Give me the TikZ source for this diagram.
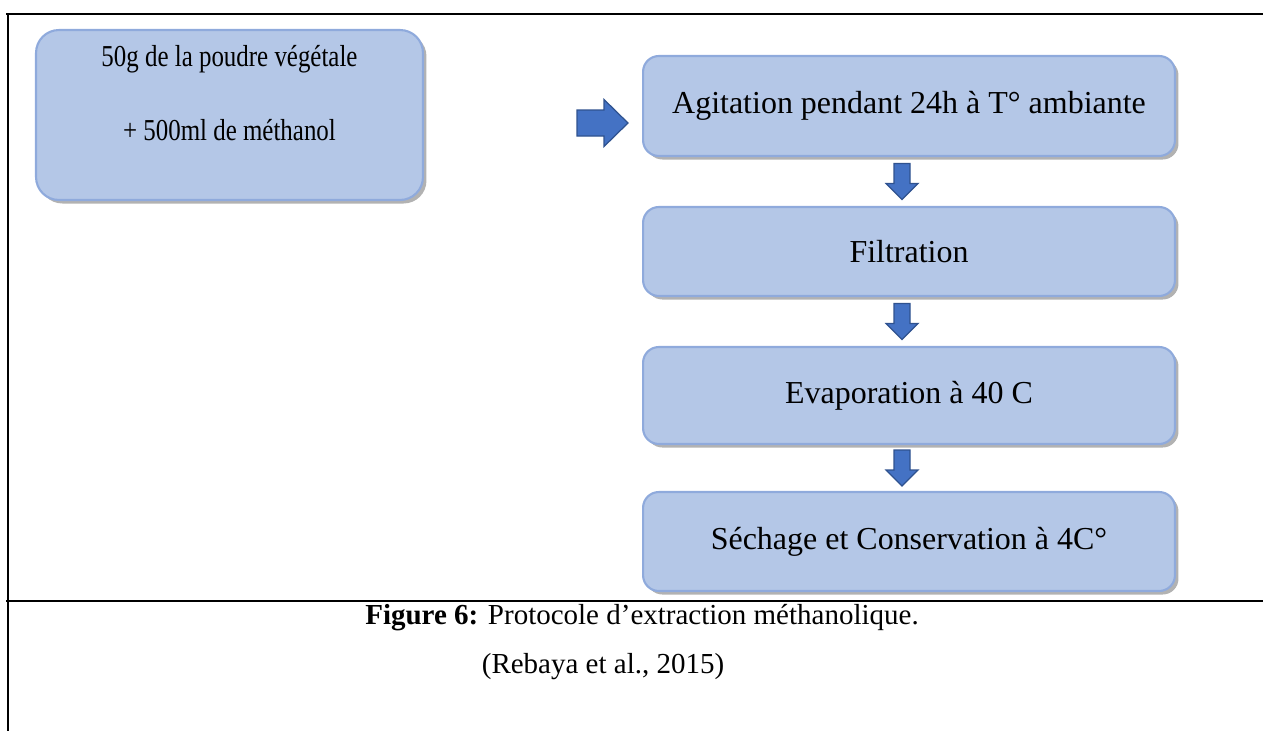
\documentclass[tikz,border=0pt]{standalone}
\usepackage{fontspec}
\setmainfont{Liberation Serif}
\newfontfamily\narrowserif[FakeStretch=0.82]{Liberation Serif}
\usepackage{tikz}
\usetikzlibrary{shadows, calc}
\definecolor{boxfill}{RGB}{180,199,231}
\definecolor{boxedge}{RGB}{143,170,220}
\definecolor{arrfill}{RGB}{68,114,196}
\definecolor{arredge}{RGB}{47,82,143}
\tikzset{
  stepbox/.style={rectangle, draw=boxedge, fill=boxfill, line width=1.2pt,
    rounded corners=9pt, align=center, inner sep=0pt,
    minimum width=10.64cm, font=\fontsize{18.2}{22}\selectfont,
    drop shadow={shadow xshift=2pt, shadow yshift=-2pt, opacity=0.3, fill=black}},
  bigbox/.style={stepbox, rounded corners=13pt, minimum width=7.74cm, minimum height=3.4cm},
  bigtext/.style={align=center, inner sep=0pt, font=\narrowserif\fontsize{17.3}{22}\selectfont},
  blockarrow/.style={draw=arredge, fill=arrfill, line width=0.7pt, line join=miter},
  frame/.style={line width=1.6pt, color=black},
  captext/.style={font=\fontsize{16.5}{20}\selectfont},
  downarr/.pic={
    \draw[blockarrow] (-8,-18) -- (8,-18) -- (8,2) -- (16,2) -- (0,18)
      -- (-16,2) -- (-8,2) -- cycle;
  },
  rightarr/.pic={
    \draw[blockarrow] (-25.5,-13) -- (1.5,-13) -- (1.5,-23.5) -- (25.5,0)
      -- (1.5,23.5) -- (1.5,13) -- (-25.5,13) -- cycle;
  }
}

\begin{document}
\begin{tikzpicture}[x=0.02cm, y=-0.02cm]
  \useasboundingbox (0,0) rectangle (1263,731);

  % table lines
  \draw[frame] (6,14) -- (1263,14);
  \draw[frame] (6,601) -- (1263,601);
  \draw[frame] (8,14) -- (8,731);

  % steps
  \node[bigbox] (poudre) at (229.5,115) {};
  \node[bigtext] (poudretxt) at ($(poudre.center)+(0,-22)$) {50g de la poudre végétale\\[20pt]+ 500ml de méthanol};
  \node[stepbox, minimum height=2.0cm] (agit) at (909,106) {Agitation pendant 24h à T° ambiante};
  \node[stepbox, minimum height=1.78cm] (filt) at (909,251.5) {Filtration};
  \node[stepbox, minimum height=1.94cm] (evap) at (909,395.5) {Evaporation à 40 C};
  \node[stepbox, minimum height=1.98cm] (sech) at (909,541.5) {Séchage et Conservation à 4C°};

  % block arrows
  \pic at (602.5,123) {rightarr};
  \pic at ($($(agit.south)!0.5!(filt.north)$)+(-7,0)$) {downarr};
  \pic at ($($(filt.south)!0.5!(evap.north)$)+(-7,0)$) {downarr};
  \pic at ($($(evap.south)!0.5!(sech.north)$)+(-7,0)$) {downarr};

  % caption
  \node[captext] (cap) at (642,618) {\textbf{Figure 6:} Protocole d’extraction méthanolique.};
  \node[captext] (ref) at (603,667) {(Rebaya et al., 2015)};
\end{tikzpicture}
\end{document}
